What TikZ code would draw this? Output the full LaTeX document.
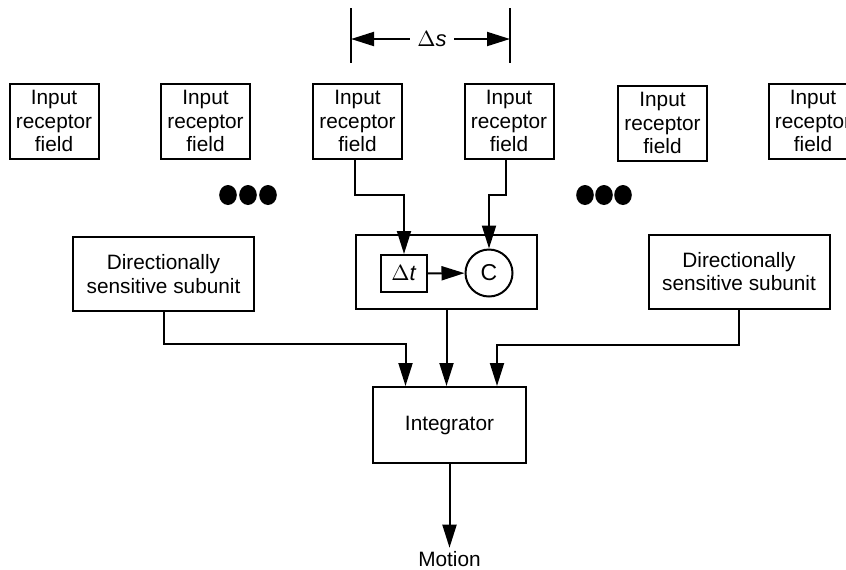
\documentclass[tikz,border=0pt]{standalone}
\usepackage{fontspec}
\setmainfont{Liberation Sans}
\usetikzlibrary{arrows.meta,calc}

\begin{document}
\begin{tikzpicture}[x=0.5pt,y=-0.5pt,line width=1pt,
  font=\fontsize{10.4}{11.7}\selectfont,
  field/.style={draw,align=center,minimum width=44.5pt,minimum height=37.5pt,inner sep=1pt},
  unitbox/.style={draw,align=center,minimum width=90.5pt,minimum height=37pt,inner sep=1pt},
  arr/.style={-{Triangle[length=11.5pt,width=7pt]}}]
\clip (0,0) rectangle (846,569);

% row of receptor fields
\node[field] (F1) at (54,121)    {Input\\receptor\\field};
\node[field] (F2) at (205.5,121) {Input\\receptor\\field};
\node[field] (F3) at (357.5,121) {Input\\receptor\\field};
\node[field] (F4) at (509,121)   {Input\\receptor\\field};
\node[field] (F5) at (662.5,123) {Input\\receptor\\field};
\node[field] (F6) at (813,121)   {Input\\receptor\\field};

% spacing between the two inputs
\coordinate (S1a) at (351,8);  \coordinate (S1b) at (351,63);
\coordinate (S2a) at (510,8);  \coordinate (S2b) at (510,63);
\draw (S1a) -- (S1b);
\draw (S2a) -- (S2b);
\node[font=\fontsize{11}{12}\selectfont] (ds) at (432,39) {$\Delta$\textit{s}};
\draw[arr] (ds.west) -- (ds.west -| S1a);
\draw[arr] (ds.east) -- (ds.east -| S2a);

% more units left and right
\foreach \x in {228,248,268,585,604,623}
  \fill (\x,195) ellipse [x radius=4.4pt,y radius=5pt];

% the detector unit
\node[unitbox] (U) at (446.5,272) {};
\node[draw,minimum width=23pt,minimum height=18.5pt,inner sep=1pt,font=\fontsize{11}{12}\selectfont] (dt) at (404,273.5) {$\Delta$\textit{t}};
\node[draw,circle,minimum size=23.5pt,inner sep=0pt,font=\fontsize{11.5}{12}\selectfont] (C) at (489,273) {C};
\draw[arr] (dt) -- (C);
\draw[arr] ([xshift=-1.5pt]F3.south) -- ++(0,35) -| (dt.north);
\draw[arr] ([xshift=-1.5pt]F4.south) -- ++(0,35) -| (C.north);

% neighbouring subunits
\node[unitbox] (DL) at (163.5,274) {Directionally\\sensitive subunit};
\node[unitbox] (DR) at (739,271.5) {Directionally\\sensitive subunit};

% integration stage
\node[draw,minimum width=76.5pt,minimum height=38pt] (I) at (449.5,425) {Integrator};
\node (M) at (449.5,559) {Motion};

\draw[arr] (DL.south) -- ++(0,32) -| ([xshift=-22pt]I.north);
\draw[arr] (DR.south) -- ++(0,35) -| ([xshift=23.75pt]I.north);
\draw[arr] (U.south) -- (U.south |- I.north);
\draw[arr] (I.south) -- ([yshift=-2pt]M.north);
\end{tikzpicture}
\end{document}
